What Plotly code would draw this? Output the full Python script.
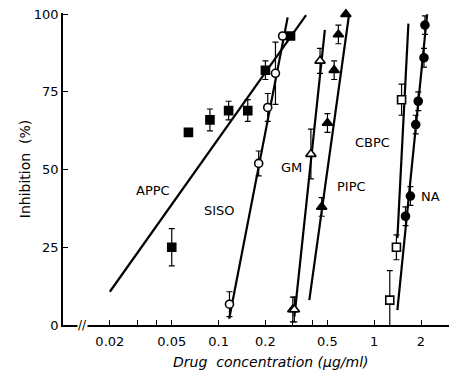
import plotly.graph_objects as go
import math

FONT = "DejaVu Sans"

# ---------------- data ----------------
appc_x = [0.05, 0.064, 0.088, 0.116, 0.154, 0.20, 0.29]
appc_y = [25, 62, 66, 69, 69, 82, 93]
appc_e = [6, 0, 3.5, 3, 3.5, 3, 0]
appc_line_x = [0.02, 0.365]
appc_line_y = [10.7, 99.7]

siso_x = [0.1175, 0.181, 0.207, 0.232, 0.258]
siso_y = [6.7, 52, 70, 81, 93]
siso_e = [4, 4, 4.5, 10, 0]
siso_line_x = [0.117, 0.278]
siso_line_y = [2, 99]

gm_x = [0.307, 0.392, 0.449]
gm_y = [5, 55, 85]
gm_e = [4, 8, 4]
gm_line_x = [0.307, 0.482]
gm_line_y = [2.7, 95]

pipc_x = [0.30, 0.46, 0.501, 0.553, 0.589, 0.658]
pipc_y = [5, 38, 65, 82, 93.5, 100]
pipc_e = [4, 3, 3, 3, 3, 0]
pipc_line_x = [0.383, 0.690]
pipc_line_y = [8, 100]

cbpc_x = [1.26, 1.39, 1.50]
cbpc_y = [8, 25, 72.5]
cbpc_e = [9.5, 4, 5]
cbpc_line_x = [1.41, 1.66]
cbpc_line_y = [28, 97]

na_x = [1.59, 1.71, 1.85, 1.92, 2.09, 2.12]
na_y = [35, 41.5, 64.5, 72, 86, 96.5]
na_e = [3, 3, 3, 3, 3, 3]
na_line_x = [1.41, 2.19]
na_line_y = [4.8, 100]

labels = ["APPC", "SISO", "GM", "PIPC", "CBPC", "NA"]
label_x = [0.0378, 0.1015, 0.294, 0.711, 0.97, 2.29]
label_y = [43.4, 37, 50.8, 44.7, 58.8, 41.5]

x_tickvals = [0.02, 0.03, 0.04, 0.05, 0.1, 0.2, 0.3, 0.4, 0.5, 1, 2]
x_ticktext = ["0.02", "", "", "0.05", "0.1", "0.2", "", "", "0.5", "1", "2"]
y_tickvals = [0, 25, 50, 75, 100]

# ---------------- figure ----------------
fig = go.Figure()

def add_line(xs, ys):
    fig.add_trace(go.Scatter(x=xs, y=ys, mode="lines",
                             line=dict(color="black", width=2.2),
                             showlegend=False, hoverinfo="skip"))

def add_pts(xs, ys, es, symbol, fill, size):
    fig.add_trace(go.Scatter(
        x=xs, y=ys, mode="markers",
        marker=dict(symbol=symbol, size=size, color=fill,
                    line=dict(color="black", width=1.6)),
        error_y=dict(type="data", array=es, visible=True,
                     color="black", thickness=1.2, width=3),
        showlegend=False, cliponaxis=False))

for lx, ly in [(appc_line_x, appc_line_y), (siso_line_x, siso_line_y),
               (gm_line_x, gm_line_y), (pipc_line_x, pipc_line_y),
               (cbpc_line_x, cbpc_line_y), (na_line_x, na_line_y)]:
    add_line(lx, ly)

add_pts(appc_x, appc_y, appc_e, "square", "black", 8)
add_pts(siso_x, siso_y, siso_e, "circle", "white", 8)
add_pts(pipc_x, pipc_y, pipc_e, "triangle-up", "black", 9)
add_pts(gm_x, gm_y, gm_e, "triangle-up", "white", 9)
add_pts(cbpc_x, cbpc_y, cbpc_e, "square", "white", 8)
add_pts(na_x, na_y, na_e, "circle", "black", 8)

for t, lx, ly in zip(labels, label_x, label_y):
    fig.add_annotation(x=math.log10(lx), y=ly, text=t, showarrow=False,
                       font=dict(family=FONT, size=13, color="black"))

# axis break mark
fig.add_annotation(xref="paper", yref="paper", x=0.035, y=0, text="//",
                   showarrow=False, bgcolor="white", yanchor="middle",
                   font=dict(family=FONT, size=12, color="black"),
                   borderpad=0)

# axis titles
fig.add_annotation(xref="paper", yref="paper", x=0.54, y=-0.119,
                   text="<i>Drug  concentration (μg/ml)</i>", showarrow=False,
                   yanchor="middle",
                   font=dict(family=FONT, size=14, color="black"))
fig.add_annotation(xref="paper", yref="paper", x=-0.098, y=0.5,
                   text="Inhibition  (%)", showarrow=False, textangle=-90,
                   xanchor="center", yanchor="middle",
                   font=dict(family=FONT, size=14, color="black"))

fig.update_xaxes(type="log", range=[-2, 0.481], tickvals=x_tickvals,
                 ticktext=x_ticktext, ticks="inside", ticklen=5,
                 tickcolor="black", tickwidth=1.2, automargin=False,
                 ticklabelstandoff=4, ticklabeloverflow="allow",
                 showline=True, linecolor="black", linewidth=1.5,
                 showgrid=False, zeroline=False,
                 tickfont=dict(family=FONT, size=13, color="black"))
fig.update_yaxes(range=[0, 100.4], tickvals=y_tickvals, ticks="inside",
                 ticklen=5, tickcolor="black", tickwidth=1.2, automargin=False,
                 ticklabeloverflow="allow",
                 showline=True, linecolor="black", linewidth=1.5,
                 showgrid=False, zeroline=False,
                 tickfont=dict(family=FONT, size=13, color="black"))

fig.update_layout(width=450, height=376,
                  margin=dict(l=63, r=1, t=13, b=51),
                  plot_bgcolor="white", paper_bgcolor="white")

# remove the page's default 8 px body margin so the figure fills the window
fig.write_html("out.html",
               config={"displayModeBar": False},
               post_script="document.body.style.margin='0px';")
